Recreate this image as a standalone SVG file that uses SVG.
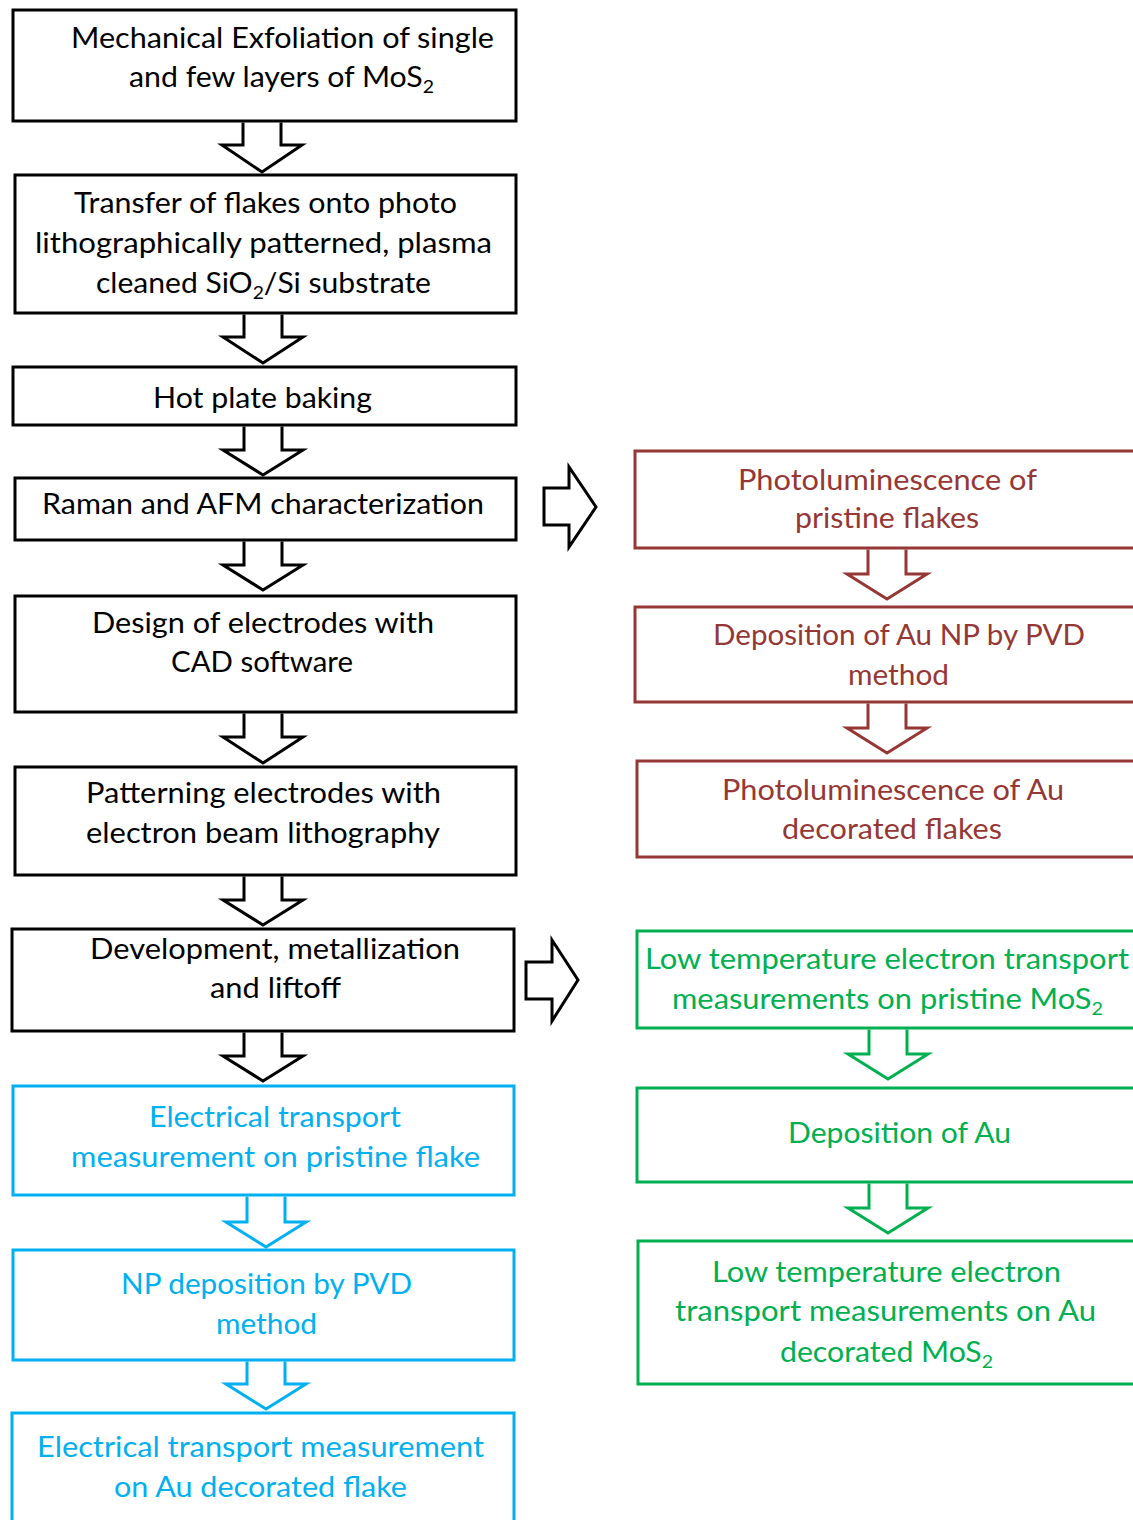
<svg xmlns="http://www.w3.org/2000/svg" width="1133" height="1520" viewBox="0 0 1133 1520">
<style>
text{font-family:Lato,"Open Sans","Liberation Sans",sans-serif;font-size:28px}
.k rect,.k path{stroke:#000}
.box{fill:#fff;stroke-width:3}
.arr{fill:#fff;stroke-width:3;stroke-linejoin:miter}
.blk{stroke:#000}.blkt{fill:#000}
.red{stroke:#953735}.redt{fill:#953735}
.cya{stroke:#00B0F0}.cyat{fill:#00B0F0}
.grn{stroke:#00B050}.grnt{fill:#00B050}
.sub{font-size:18px}
</style>
<rect width="1133" height="1520" fill="#fff"/>
<g id="connectors">
<path class="arr blk" d="M243,122.5 V145 H222 L262,172 L302,145 H281 V122.5"/>
<path class="arr blk" d="M244,314.5 V337 H223 L263,363 L303,337 H282 V314.5"/>
<path class="arr blk" d="M244,426.5 V450 H223 L263,475 L303,450 H282 V426.5"/>
<path class="arr blk" d="M244,541.5 V565 H223 L263,590 L303,565 H282 V541.5"/>
<path class="arr blk" d="M244,713.5 V737 H223 L263,763 L303,737 H282 V713.5"/>
<path class="arr blk" d="M244,876.5 V900 H223 L263,925 L303,900 H282 V876.5"/>
<path class="arr blk" d="M244,1032.5 V1056 H223 L263,1081 L303,1056 H282 V1032.5"/>
<path class="arr cya" d="M247,1196.5 V1222 H226 L266,1247 L306,1222 H285 V1196.5"/>
<path class="arr cya" d="M247,1361.5 V1384 H226 L266,1409 L306,1384 H285 V1361.5"/>
<path class="arr red" d="M868,549.5 V574 H847 L887,599 L927,574 H906 V549.5"/>
<path class="arr red" d="M868,703.5 V728 H847 L887,753 L927,728 H906 V703.5"/>
<path class="arr grn" d="M869,1029.5 V1054 H848 L888,1079 L928,1054 H907 V1029.5"/>
<path class="arr grn" d="M869,1183.5 V1208 H848 L888,1233 L928,1208 H907 V1183.5"/>
<path class="arr blk" d="M544,488 H569 V467 L596,507 L569,547 V525 H544 Z"/>
<path class="arr blk" d="M526,962 H552 V940 L578,980 L552,1021 V999 H526 Z"/>
</g>
<g id="n1"><rect class="box blk" x="13" y="10" width="503" height="111"/>
<text class="blkt" x="71" y="48" textLength="423" lengthAdjust="spacingAndGlyphs">Mechanical Exfoliation of single</text>
<text class="blkt" x="129" y="87" textLength="305" lengthAdjust="spacingAndGlyphs">and few layers of MoS<tspan class="sub" dy="6">2</tspan></text></g>
<g id="n2"><rect class="box blk" x="15" y="175" width="501" height="138"/>
<text class="blkt" x="74" y="213" textLength="383" lengthAdjust="spacingAndGlyphs">Transfer of flakes onto photo</text>
<text class="blkt" x="35" y="253" textLength="457" lengthAdjust="spacingAndGlyphs">lithographically patterned, plasma</text>
<text class="blkt" x="96" y="293" textLength="335" lengthAdjust="spacingAndGlyphs">cleaned SiO<tspan class="sub" dy="6">2</tspan><tspan dy="-6">/Si substrate</tspan></text></g>
<g id="n3"><rect class="box blk" x="13" y="367" width="503" height="58"/>
<text class="blkt" x="153" y="408" textLength="219" lengthAdjust="spacingAndGlyphs">Hot plate baking</text></g>
<g id="n4"><rect class="box blk" x="15" y="478" width="501" height="62"/>
<text class="blkt" x="42" y="514" textLength="442" lengthAdjust="spacingAndGlyphs">Raman and AFM characterization</text></g>
<g id="n5"><rect class="box blk" x="15" y="596" width="501" height="116"/>
<text class="blkt" x="92" y="633" textLength="342" lengthAdjust="spacingAndGlyphs">Design of electrodes with</text>
<text class="blkt" x="171" y="672" textLength="182" lengthAdjust="spacingAndGlyphs">CAD software</text></g>
<g id="n6"><rect class="box blk" x="15" y="767" width="501" height="108"/>
<text class="blkt" x="86" y="803" textLength="355" lengthAdjust="spacingAndGlyphs">Patterning electrodes with</text>
<text class="blkt" x="86" y="843" textLength="354" lengthAdjust="spacingAndGlyphs">electron beam lithography</text></g>
<g id="n7"><rect class="box blk" x="12" y="929" width="502" height="102"/>
<text class="blkt" x="90" y="959" textLength="370" lengthAdjust="spacingAndGlyphs">Development, metallization</text>
<text class="blkt" x="210" y="998" textLength="131" lengthAdjust="spacingAndGlyphs">and liftoff</text></g>
<g id="n8"><rect class="box cya" x="13" y="1086" width="501" height="109"/>
<text class="cyat" x="149" y="1127" textLength="252" lengthAdjust="spacingAndGlyphs">Electrical transport</text>
<text class="cyat" x="71" y="1167" textLength="409" lengthAdjust="spacingAndGlyphs">measurement on pristine flake</text></g>
<g id="n9"><rect class="box cya" x="13" y="1250" width="501" height="110"/>
<text class="cyat" x="121" y="1294" textLength="291" lengthAdjust="spacingAndGlyphs">NP deposition by PVD</text>
<text class="cyat" x="216" y="1334" textLength="101" lengthAdjust="spacingAndGlyphs">method</text></g>
<g id="n10"><rect class="box cya" x="12" y="1413" width="502" height="130"/>
<text class="cyat" x="37" y="1457" textLength="447" lengthAdjust="spacingAndGlyphs">Electrical transport measurement</text>
<text class="cyat" x="114" y="1497" textLength="293" lengthAdjust="spacingAndGlyphs">on Au decorated flake</text></g>
<g id="r1"><rect class="box red" x="635" y="451" width="520" height="97"/>
<text class="redt" x="738" y="490" textLength="299" lengthAdjust="spacingAndGlyphs">Photoluminescence  of</text>
<text class="redt" x="795" y="528" textLength="184" lengthAdjust="spacingAndGlyphs">pristine flakes</text></g>
<g id="r2"><rect class="box red" x="635" y="607" width="520" height="95"/>
<text class="redt" x="713" y="645" textLength="372" lengthAdjust="spacingAndGlyphs">Deposition of Au NP by PVD</text>
<text class="redt" x="848" y="685" textLength="101" lengthAdjust="spacingAndGlyphs">method</text></g>
<g id="r3"><rect class="box red" x="637" y="761" width="520" height="96"/>
<text class="redt" x="722" y="800" textLength="342" lengthAdjust="spacingAndGlyphs">Photoluminescence of Au</text>
<text class="redt" x="782" y="839" textLength="220" lengthAdjust="spacingAndGlyphs">decorated flakes</text></g>
<g id="g1"><rect class="box grn" x="637" y="931" width="520" height="97"/>
<text class="grnt" x="645" y="969" textLength="484" lengthAdjust="spacingAndGlyphs">Low temperature electron transport</text>
<text class="grnt" x="672" y="1009" textLength="431" lengthAdjust="spacingAndGlyphs">measurements on pristine MoS<tspan class="sub" dy="6">2</tspan></text></g>
<g id="g2"><rect class="box grn" x="637" y="1088" width="520" height="94"/>
<text class="grnt" x="788" y="1143" textLength="223" lengthAdjust="spacingAndGlyphs">Deposition of Au</text></g>
<g id="g3"><rect class="box grn" x="638" y="1241" width="520" height="143"/>
<text class="grnt" x="712" y="1282" textLength="349" lengthAdjust="spacingAndGlyphs">Low temperature electron</text>
<text class="grnt" x="675" y="1321" textLength="421" lengthAdjust="spacingAndGlyphs">transport measurements on Au</text>
<text class="grnt" x="780" y="1362" textLength="213" lengthAdjust="spacingAndGlyphs">decorated MoS<tspan class="sub" dy="6">2</tspan></text></g>
</svg>
